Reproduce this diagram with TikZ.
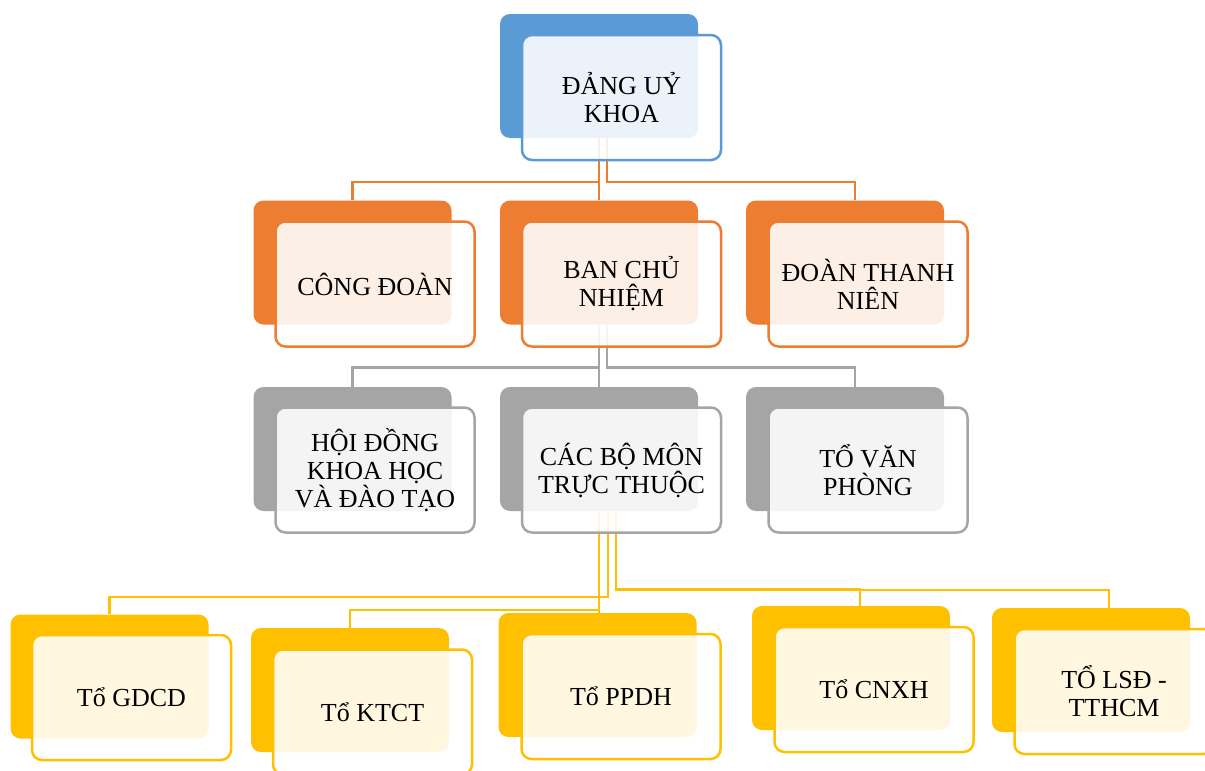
\documentclass[tikz,border=0pt]{standalone}
\usepackage{fontspec}
\setmainfont{Liberation Serif}
\usetikzlibrary{backgrounds}
\definecolor{cblue}{HTML}{5B9BD5}
\definecolor{corange}{HTML}{ED7D31}
\definecolor{cgray}{HTML}{A5A5A5}
\definecolor{cyellow}{HTML}{FFC000}
\tikzset{
  backbox/.style={draw=none, rounded corners=10pt, minimum width=198pt, minimum height=124pt, inner sep=0pt},
  frontbox/.style={line width=2.5pt, rounded corners=10pt, fill=white, fill opacity=0.88, text opacity=1,
     minimum width=199pt, minimum height=125pt, inner sep=0pt, align=center,
     font=\fontsize{26}{28}\selectfont},
  conn/.style={line width=2.5pt}
}
\newcommand\orgunit[5]{%
  \node[backbox, fill=#2] (#1-b) at (#3) {};
  \node[frontbox, draw=#2] (#1) at (#4) {#5};
}
\begin{document}
\begin{tikzpicture}[x=1pt, y=-1pt]
\useasboundingbox (0,0) rectangle (1205,771);
\clip (0,0) rectangle (1205,771);
% level 1
\orgunit{dang}{cblue}{599,76}{621.5,97.5}{ĐẢNG UỶ\\KHOA}
% level 2
\orgunit{cd}{corange}{352.5,262.5}{375,284}{CÔNG ĐOÀN}
\orgunit{bcn}{corange}{599,262.5}{621.5,284}{BAN CHỦ\\NHIỆM}
\orgunit{dtn}{corange}{845,262.5}{868,284}{ĐOÀN THANH\\NIÊN}
% level 3
\orgunit{hd}{cgray}{352.5,449}{375,470}{HỘI ĐỒNG\\KHOA HỌC\\VÀ ĐÀO TẠO}
\orgunit{cbm}{cgray}{599,449}{621.5,470}{CÁC BỘ MÔN\\TRỰC THUỘC}
\orgunit{tvp}{cgray}{845,449}{868,470}{TỔ VĂN\\PHÒNG}
% level 4
\orgunit{gdcd}{cyellow}{109.5,676.5}{131.5,697.5}{Tổ GDCD}
\orgunit{ktct}{cyellow}{350,690}{372.5,712}{Tổ KTCT}
\orgunit{ppdh}{cyellow}{597.5,675}{621,696.5}{Tổ PPDH}
\orgunit{cnxh}{cyellow}{851,668}{874,689.5}{Tổ CNXH}
\orgunit{lsd}{cyellow}{1091,670}{1114,691.5}{TỔ LSĐ -\\TTHCM}
% connectors
\begin{pgfonlayer}{background}
\draw[conn, corange] (dang-b.south) -- ++(0,44) -| (cd-b.north);
\draw[conn, corange] (dang-b.south) -- (bcn-b.north);
\draw[conn, corange] ([xshift=8pt]dang-b.south) -- ++(0,44) -| ([xshift=10pt]dtn-b.north);
\draw[conn, cgray] (bcn-b.south) -- ++(0,43) -| (hd-b.north);
\draw[conn, cgray] (bcn-b.south) -- (cbm-b.north);
\draw[conn, cgray] ([xshift=8pt]bcn-b.south) -- ++(0,43) -| ([xshift=10pt]tvp-b.north);
\draw[conn, cyellow] (cbm-b.south) -- ++(0,99) -| (ktct-b.north);
\draw[conn, cyellow] ([xshift=9pt]cbm-b.south) -- ++(0,86) -| (gdcd-b.north);
\draw[conn, cyellow] (cbm-b.south) -- (cbm-b.south |- ppdh-b.north);
\draw[conn, cyellow] ([xshift=17pt]cbm-b.south) -- ++(0,78) -| ([xshift=9pt]cnxh-b.north);
\draw[conn, cyellow] ([xshift=17pt]cbm-b.south) -- ++(0,79) -| ([xshift=18pt]lsd-b.north);
\end{pgfonlayer}
\end{tikzpicture}
\end{document}
